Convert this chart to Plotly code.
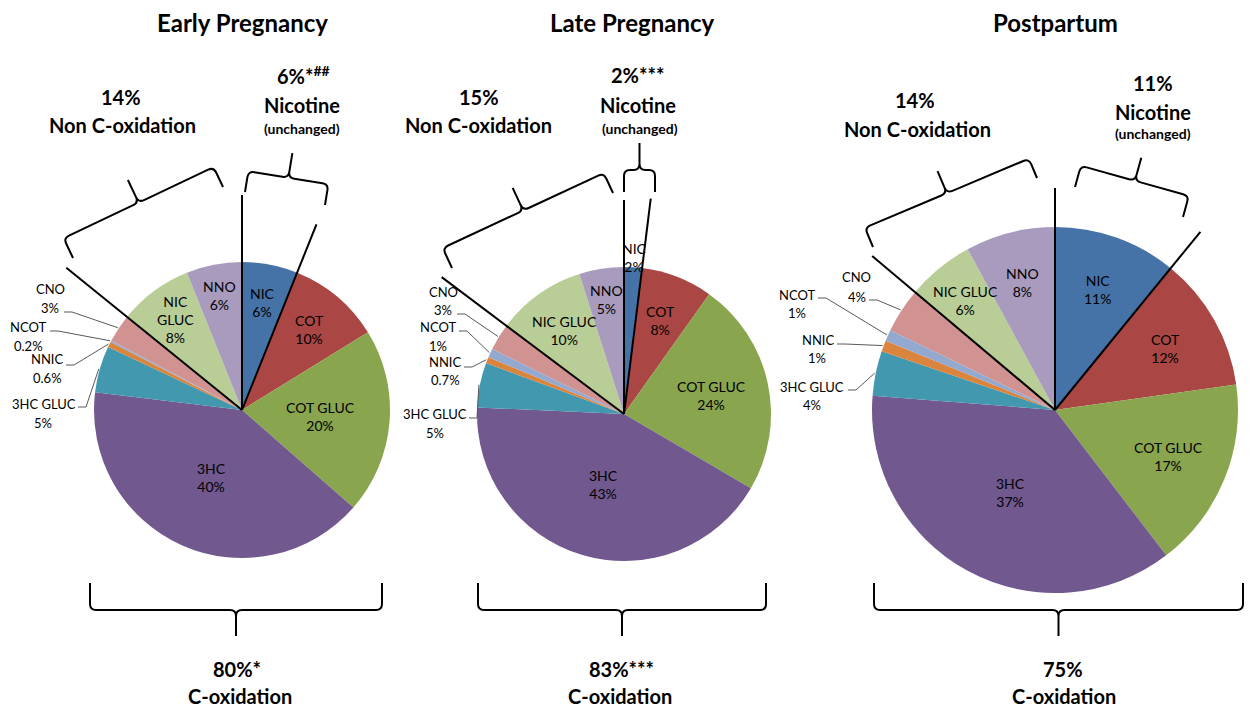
import math
import plotly.graph_objects as go

# page window and the default 8px body margin of the written html page
WIN_W, WIN_H = 1252, 715
OX, OY = 8, 8
W, H = WIN_W - 2 * OX, WIN_H - 2 * OY

# ---------------- data ----------------
slices = ["NIC", "COT", "COT GLUC", "3HC", "3HC GLUC", "NNIC", "NCOT", "CNO", "NIC GLUC", "NNO"]
colors = ["#4572A7", "#AA4643", "#89A54E", "#71588F", "#4198AF",
          "#DB843D", "#93A9CF", "#D19392", "#B9CD96", "#A99BBD"]

early = [6, 10, 20, 40, 5, 0.6, 0.2, 3, 8, 6]
late = [2, 8, 24, 43, 5, 0.7, 1, 3, 10, 5]
post = [11, 12, 17, 37, 4, 1, 1, 4, 6, 8]
series = [early, late, post]

titles = ["Early Pregnancy", "Late Pregnancy", "Postpartum"]
nicotine_pct = ["6%*<sup>##</sup>", "2%***", "11%"]
nonc_pct = ["14%", "15%", "14%"]
coxid_pct = ["80%*", "83%***", "75%"]

small = ["3HC GLUC", "NNIC", "NCOT", "CNO"]

# ---------------- layout (pixel geometry in the window) ----------------
FONT = "Lato"
geom = [(242, 410, 148), (624, 414, 147), (1055, 410, 183)]
line_len = [(215, 200, 226), (214, 217, 228), (222, 230, 239)]
# radial position of inside labels (fraction of radius), per pie
inside_frac = [
    {"NIC": 0.74, "COT": 0.71, "COT GLUC": 0.53, "3HC": 0.5, "NIC GLUC": 0.76, "NNO": 0.79},
    {"NIC": 0.74, "COT": 0.68, "COT GLUC": 0.61, "3HC": 0.5, "NIC GLUC": 0.70, "NNO": 0.79},
    {"NIC": 0.70, "COT": 0.69, "COT GLUC": 0.67, "3HC": 0.51, "NIC GLUC": 0.77, "NNO": 0.72},
]

title_pos = [(242, 23), (632, 23), (1055, 23)]
nonc_pos = [((121, 97), (122, 125)), ((479, 97), (478, 125)), ((915, 100), (917, 129))]
nic_pos = [((303, 75), (302, 105), (302, 128)),
           ((638, 75), (638, 105), (640, 128)),
           ((1153, 83), (1153, 112), (1153, 134))]
cox_pos = [((237, 669), (240, 696)), ((621, 669), (620, 696)), ((1063, 669), (1064, 696))]

small_lab = [
    {"CNO": ((50, 289), (50, 308), (64, 312)),
     "NCOT": ((28, 327), (28, 346), (50, 331)),
     "NNIC": ((47, 359), (47, 378), (66, 365)),
     "3HC GLUC": ((44, 404), (43, 423), (78, 407))},
    {"CNO": ((443, 292), (443, 310), (457, 314)),
     "NCOT": ((438, 327), (438, 346), (459, 331)),
     "NNIC": ((445, 362), (445, 380), (464, 367)),
     "3HC GLUC": ((435, 414), (435, 433), (469, 418))},
    {"CNO": ((856, 277), (857, 297), (869, 300)),
     "NCOT": ((797, 295), (797, 313), (818, 298)),
     "NNIC": ((818, 340), (817, 358), (837, 344)),
     "3HC GLUC": ((812, 387), (812, 405), (848, 390))},
]

braces = [
    ((73, 258), (223, 187), 22, 47, -1),
    ((245, 192), (325, 205), 21, 46, -1),
    ((90, 583), (382, 583), 27, 53, 1),
    ((452, 268), (613, 193), 22, 47, -1),
    ((624, 192), (655, 192), 22, 49, -1),
    ((478, 583), (766, 583), 27, 53, 1),
    ((873, 247), (1037, 178), 21, 45, -1),
    ((1075, 187), (1183, 217), 22, 46, -1),
    ((874, 583), (1243, 583), 27, 53, 1),
]


def px(x, y):
    return (x - OX) / W, 1 - (y - OY) / H


def pstr(x, y):
    a, b = px(x, y)
    return f"{a:.5f},{b:.5f}"


def brace_path(p1, p2, depth, tip, side, r=6):
    x1, y1 = p1
    x2, y2 = p2
    L = math.hypot(x2 - x1, y2 - y1)
    ax, ay = (x2 - x1) / L, (y2 - y1) / L
    nx, ny = side * -ay, side * ax

    def X(u, v):
        return pstr(x1 + u * ax + v * nx, y1 + u * ay + v * ny)

    m = L / 2
    return (f"M {X(0, 0)} L {X(0, depth - r)} Q {X(0, depth)} {X(r, depth)} "
            f"L {X(m - r, depth)} Q {X(m, depth)} {X(m, depth + r)} L {X(m, tip)} "
            f"M {X(m, depth + r)} Q {X(m, depth)} {X(m + r, depth)} "
            f"L {X(L - r, depth)} Q {X(L, depth)} {X(L, depth - r)} L {X(L, 0)}")


fig = go.Figure()
shapes = []
annotations = []


def ann(text, x, y, size, bold=False, color="black"):
    a, b = px(x, y)
    annotations.append(dict(
        text=f"<b>{text}</b>" if bold else text, x=a, y=b, xref="paper", yref="paper",
        xanchor="center", yanchor="middle", showarrow=False, borderpad=0,
        font=dict(family=FONT, size=size, color=color)))


for i, vals in enumerate(series):
    cx, cy, r = geom[i]
    total = sum(vals)
    x0, y0 = px(cx - r, cy + r)
    x1, y1 = px(cx + r, cy - r)
    fig.add_trace(go.Pie(
        labels=slices, values=vals, textinfo="none",
        marker=dict(colors=colors, line=dict(width=0)),
        sort=False, direction="clockwise", rotation=0,
        domain=dict(x=[x0, x1], y=[y0, y1]),
        hoverinfo="label+value", showlegend=False))

    cum = [0]
    for v in vals:
        cum.append(cum[-1] + v)

    def pt(frac, rad):
        th = 2 * math.pi * frac
        return cx + rad * math.sin(th), cy - rad * math.cos(th)

    # inside labels
    for k, name in enumerate(slices):
        if name in small or (i == 1 and name == "NIC"):
            continue
        nm = "NIC<br>GLUC" if (i == 0 and name == "NIC GLUC") else name
        mid = (cum[k] + vals[k] / 2) / total
        lx, ly = pt(mid, r * inside_frac[i][name])
        ann(f"{nm}<br>{vals[k]:g}%", lx, ly, 14)

    # radial separator lines: top, end of NIC, end of CNO
    fr = [0, cum[1] / total, cum[slices.index("CNO") + 1] / total]
    for f, ln in zip(fr, line_len[i]):
        ex, ey = pt(f, ln)
        shapes.append(dict(type="line", xref="paper", yref="paper",
                           x0=px(cx, cy)[0], y0=px(cx, cy)[1],
                           x1=px(ex, ey)[0], y1=px(ex, ey)[1],
                           line=dict(color="black", width=2)))

    # small slice labels with leaders
    for name, (npos, vpos, lstart) in small_lab[i].items():
        k = slices.index(name)
        ann(name, npos[0], npos[1], 13)
        ann(f"{vals[k]:g}%", vpos[0], vpos[1], 13)
        mid = (cum[k] + vals[k] / 2) / total
        ex, ey = pt(mid, r + 1)
        sx, sy = lstart
        path = f"M {pstr(sx, sy)} L {pstr(sx + 8, sy)} L {pstr(ex, ey)}"
        shapes.append(dict(type="path", xref="paper", yref="paper", path=path,
                           line=dict(color="#595959", width=1)))

    if i == 1:
        k = 0
        mid = (cum[k] + vals[k] / 2) / total
        lx, ly = pt(mid, r * 1.07)
        ann(f"{slices[k]}<br>{vals[k]:g}%", lx + 1, ly, 14)

    ann(titles[i], *title_pos[i], 24, bold=True)
    ann(nonc_pct[i], *nonc_pos[i][0], 20, bold=True)
    ann("Non C-oxidation", *nonc_pos[i][1], 20, bold=True)
    ann(nicotine_pct[i], *nic_pos[i][0], 20, bold=True)
    ann("Nicotine", *nic_pos[i][1], 20, bold=True)
    ann("(unchanged)", *nic_pos[i][2], 14, bold=True)
    ann(coxid_pct[i], *cox_pos[i][0], 20, bold=True)
    ann("C-oxidation", *cox_pos[i][1], 20, bold=True)

for p1, p2, d, t, s in braces:
    shapes.append(dict(type="path", xref="paper", yref="paper",
                       path=brace_path(p1, p2, d, t, s),
                       line=dict(color="black", width=2)))

fig.update_layout(
    width=W, height=H, margin=dict(l=0, r=0, t=0, b=0),
    paper_bgcolor="white", plot_bgcolor="white", showlegend=False,
    shapes=shapes, annotations=annotations,
    font=dict(family=FONT),
)

fig.write_html("out.html")
